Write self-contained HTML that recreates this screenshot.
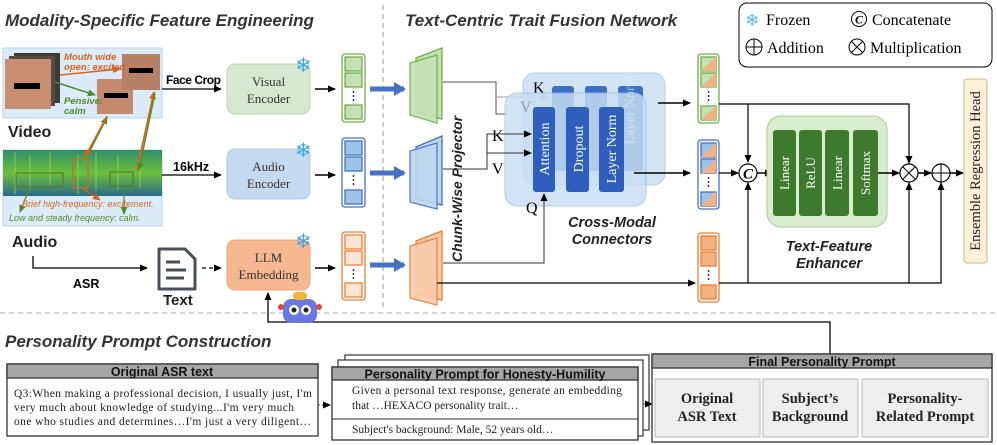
<!DOCTYPE html>
<html><head><meta charset="utf-8"><style>
html,body{margin:0;padding:0;background:#fff;}
svg{display:block;}
.t{font-family:"Liberation Sans",sans-serif;}
.s{font-family:"Liberation Serif",serif;}
</style></head><body>
<svg width="997" height="445" viewBox="0 0 997 445" xmlns="http://www.w3.org/2000/svg">
<defs>
<marker id="ar" markerWidth="8" markerHeight="8" refX="7" refY="4" orient="auto" markerUnits="userSpaceOnUse"><path d="M0,0.5 L8,4 L0,7.5 z" fill="#000"/></marker>
<marker id="ab" markerWidth="14" markerHeight="14" refX="10" refY="7" orient="auto" markerUnits="userSpaceOnUse"><path d="M0,0 L12,7 L0,14 z" fill="#4472c4"/></marker>
<marker id="ao" markerWidth="8" markerHeight="8" refX="7" refY="4" orient="auto" markerUnits="userSpaceOnUse"><path d="M0,0.5 L8,4 L0,7.5 z" fill="#d9641e"/></marker>
<marker id="ag" markerWidth="8" markerHeight="8" refX="7" refY="4" orient="auto" markerUnits="userSpaceOnUse"><path d="M0,0.5 L8,4 L0,7.5 z" fill="#4f8a2b"/></marker>
<linearGradient id="spec" x1="0" y1="0" x2="0" y2="1"><stop offset="0" stop-color="#2f8f6a"/><stop offset="0.5" stop-color="#6cbf3c"/><stop offset="1" stop-color="#2a6a8a"/></linearGradient>
</defs>

<line x1="383" y1="5" x2="383" y2="310" stroke="#999" stroke-dasharray="5,4"/>
<line x1="0" y1="313" x2="997" y2="313" stroke="#aaa" stroke-dasharray="5,4"/>

<text x="5" y="26" class="t" font-size="17" font-weight="bold" font-style="italic" fill="#333">Modality-Specific Feature Engineering</text>
<text x="405" y="26" class="t" font-size="17" font-weight="bold" font-style="italic" fill="#333">Text-Centric Trait Fusion Network</text>

<rect x="739" y="3" width="253" height="64" rx="8" fill="#fff" stroke="#000"/>
<text x="745" y="26" font-size="17" fill="#5ab4e5" class="s">❄</text>
<text x="766" y="25" class="s" font-size="16">Frozen</text>
<circle cx="859" cy="19" r="7.5" fill="none" stroke="#000"/><text x="859" y="23.5" text-anchor="middle" class="s" font-size="12" font-style="italic" font-weight="bold">C</text>
<text x="872" y="25" class="s" font-size="16">Concatenate</text>
<circle cx="754" cy="47" r="8" fill="none" stroke="#000"/><line x1="746" y1="47" x2="762" y2="47" stroke="#000"/><line x1="754" y1="39" x2="754" y2="55" stroke="#000"/>
<text x="767" y="53" class="s" font-size="16">Addition</text>
<circle cx="857" cy="47" r="8" fill="none" stroke="#000"/><line x1="851.5" y1="41.5" x2="862.5" y2="52.5" stroke="#000"/><line x1="862.5" y1="41.5" x2="851.5" y2="52.5" stroke="#000"/>
<text x="870" y="53" class="s" font-size="16">Multiplication</text>

<!-- video panel -->
<rect x="3" y="48" width="159" height="70" fill="#dcebf8" stroke="#b7d3ec"/>
<rect x="14" y="53" width="46" height="50" fill="#3a3a3a"/>
<rect x="9" y="56" width="46" height="50" fill="#5a4a40"/>
<rect x="5" y="59" width="46" height="50" fill="#c98f72"/>
<rect x="14" y="83" width="26" height="6" fill="#000"/>
<rect x="97" y="79" width="36" height="35" fill="#c48a6e"/><rect x="104" y="93" width="24" height="5" fill="#000"/>
<rect x="122" y="54" width="38" height="36" fill="#b98068"/><rect x="129" y="68" width="24" height="5" fill="#000"/>
<text x="64" y="60" class="t" font-size="9.5" font-style="italic" font-weight="bold" fill="#d9641e">Mouth wide</text>
<text x="64" y="70" class="t" font-size="9.5" font-style="italic" font-weight="bold" fill="#d9641e">open: excited</text>
<text x="64" y="104" class="t" font-size="9.5" font-style="italic" font-weight="bold" fill="#4f8a2b">Pensive:</text>
<text x="64" y="114" class="t" font-size="9.5" font-style="italic" font-weight="bold" fill="#4f8a2b">calm</text>
<line x1="60" y1="75" x2="120" y2="69" stroke="#d9641e" stroke-width="1.5" marker-end="url(#ao)"/>
<line x1="55" y1="82" x2="95" y2="95" stroke="#4f8a2b" stroke-width="1.5" marker-end="url(#ag)"/>
<text x="8" y="137" class="t" font-size="16" font-weight="bold" fill="#222">Video</text>

<!-- audio panel -->
<rect x="3" y="150" width="159" height="76" fill="#dcebf8" stroke="#b7d3ec"/>
<rect x="3" y="150" width="159" height="46" fill="url(#spec)"/>
<g stroke="#b6e04a" stroke-width="1" opacity="0.6">
<line x1="15" y1="152" x2="15" y2="194"/><line x1="30" y1="155" x2="30" y2="190"/><line x1="50" y1="152" x2="50" y2="185"/><line x1="78" y1="155" x2="78" y2="194"/><line x1="96" y1="152" x2="96" y2="190"/><line x1="118" y1="155" x2="118" y2="190"/><line x1="140" y1="152" x2="140" y2="188"/>
</g>
<rect x="16" y="173" width="47" height="14" fill="none" stroke="#5a7a2a" stroke-width="1.2"/>
<rect x="73" y="159" width="15" height="29" fill="none" stroke="#d9641e" stroke-width="1.2"/>
<rect x="110" y="172" width="23" height="14" fill="none" stroke="#5a7a2a" stroke-width="1.2"/>
<line x1="86" y1="158" x2="107" y2="117" stroke="#4f8a2b" stroke-width="1.8" marker-end="url(#ag)"/>
<line x1="107" y1="116" x2="85" y2="157" stroke="#d9641e" stroke-width="1.6" marker-end="url(#ao)"/>
<line x1="137" y1="170" x2="154" y2="92" stroke="#d9641e" stroke-width="1.8" marker-end="url(#ao)"/>
<line x1="155" y1="93" x2="139" y2="170" stroke="#4f8a2b" stroke-width="1.4" marker-end="url(#ag)"/>
<line x1="82" y1="188" x2="100" y2="200" stroke="#d9641e" stroke-width="1.2" marker-end="url(#ao)"/>
<line x1="30" y1="187" x2="20" y2="212" stroke="#4f8a2b" stroke-width="1.2" marker-end="url(#ag)"/>
<line x1="124" y1="187" x2="124" y2="214" stroke="#4f8a2b" stroke-width="1.2" marker-end="url(#ag)"/>
<text x="22" y="207" class="t" font-size="9" font-style="italic" fill="#d9641e">Brief high-frequency: excitement.</text>
<text x="9" y="221" class="t" font-size="9" font-style="italic" fill="#4f8a2b">Low and steady frequency: calm.</text>
<text x="12" y="247" class="t" font-size="16" font-weight="bold" fill="#222">Audio</text>

<text x="166" y="84" class="t" font-size="12" font-weight="bold" textLength="55">Face Crop</text>
<line x1="162" y1="89" x2="221" y2="89" stroke="#000" stroke-width="1.3" marker-end="url(#ar)"/>
<text x="173" y="171" class="t" font-size="12.5" font-weight="bold">16kHz</text>
<line x1="162" y1="175" x2="221" y2="175" stroke="#000" stroke-width="1.3" marker-end="url(#ar)"/>
<polyline points="33,256 33,268 147,268" fill="none" stroke="#000" stroke-width="1.3" marker-end="url(#ar)"/>
<text x="73" y="288" class="t" font-size="12.5" font-weight="bold">ASR</text>
<path d="M159,249 h26 l10,10 v30 h-36 z" fill="#fff" stroke="#4a4f57" stroke-width="3" stroke-linejoin="round"/>
<line x1="166" y1="262" x2="180" y2="262" stroke="#4a4f57" stroke-width="3"/>
<line x1="166" y1="270" x2="186" y2="270" stroke="#4a4f57" stroke-width="3"/>
<line x1="166" y1="278" x2="184" y2="278" stroke="#4a4f57" stroke-width="3"/>
<text x="163" y="305" class="t" font-size="15" font-weight="bold" fill="#222">Text</text>
<line x1="202" y1="268" x2="221" y2="268" stroke="#000" stroke-width="1.3" stroke-dasharray="4,3" marker-end="url(#ar)"/>

<rect x="227" y="64" width="83" height="50" rx="8" fill="#d5e8d0" stroke="#bcd9b0"/>
<text x="268.5" y="86" text-anchor="middle" class="s" font-size="13" fill="#333">Visual</text>
<text x="268.5" y="103" text-anchor="middle" class="s" font-size="13" fill="#333">Encoder</text>
<rect x="227" y="149" width="83" height="50" rx="8" fill="#c5d9ef" stroke="#b0cbe8"/>
<text x="268.5" y="171" text-anchor="middle" class="s" font-size="13" fill="#333">Audio</text>
<text x="268.5" y="188" text-anchor="middle" class="s" font-size="13" fill="#333">Encoder</text>
<rect x="227" y="240" width="83" height="50" rx="8" fill="#f5b890" stroke="#eda878"/>
<text x="268.5" y="262" text-anchor="middle" class="s" font-size="13" fill="#333">LLM</text>
<text x="268.5" y="279" text-anchor="middle" class="s" font-size="13" fill="#333">Embedding</text>
<text x="295" y="72" font-size="20" fill="#3aa6e8" class="s">❄</text>
<text x="295" y="157" font-size="20" fill="#3aa6e8" class="s">❄</text>
<text x="295" y="248" font-size="20" fill="#3aa6e8" class="s">❄</text>
<line x1="315" y1="89" x2="335" y2="89" stroke="#000" stroke-width="1.5" marker-end="url(#ar)"/>
<line x1="315" y1="175" x2="335" y2="175" stroke="#000" stroke-width="1.5" marker-end="url(#ar)"/>
<line x1="315" y1="268" x2="335" y2="268" stroke="#000" stroke-width="1.5" marker-end="url(#ar)"/>

<g stroke-width="1.3">
<rect x="342" y="54" width="23" height="68" rx="3" fill="#fff" stroke="#70ad47"/>
<rect x="345" y="57" width="17" height="14" fill="#c5e0b4" stroke="#70ad47"/><rect x="345" y="73" width="17" height="14" fill="#c5e0b4" stroke="#70ad47"/><rect x="345" y="105" width="17" height="14" fill="#c5e0b4" stroke="#70ad47"/>
<rect x="342" y="138" width="23" height="69" rx="3" fill="#fff" stroke="#4472c4"/>
<rect x="345" y="141" width="17" height="14" fill="#9dc3e6" stroke="#4472c4"/><rect x="345" y="157" width="17" height="14" fill="#9dc3e6" stroke="#4472c4"/><rect x="345" y="190" width="17" height="14" fill="#9dc3e6" stroke="#4472c4"/>
<rect x="342" y="232" width="23" height="68" rx="3" fill="#fff" stroke="#ed7d31"/>
<rect x="345" y="235" width="17" height="14" fill="#fbe5d6" stroke="#ed7d31"/><rect x="345" y="251" width="17" height="14" fill="#fbe5d6" stroke="#ed7d31"/><rect x="345" y="283" width="17" height="14" fill="#fbe5d6" stroke="#ed7d31"/>
</g>
<g fill="#000"><circle cx="353.5" cy="92" r="0.9"/><circle cx="353.5" cy="96" r="0.9"/><circle cx="353.5" cy="100" r="0.9"/>
<circle cx="353.5" cy="176" r="0.9"/><circle cx="353.5" cy="180" r="0.9"/><circle cx="353.5" cy="184" r="0.9"/>
<circle cx="353.5" cy="270" r="0.9"/><circle cx="353.5" cy="274" r="0.9"/><circle cx="353.5" cy="278" r="0.9"/></g>

<line x1="370" y1="89" x2="404" y2="89" stroke="#4472c4" stroke-width="5" marker-end="url(#ab)"/>
<line x1="370" y1="173" x2="404" y2="173" stroke="#4472c4" stroke-width="5" marker-end="url(#ab)"/>
<line x1="370" y1="265" x2="404" y2="265" stroke="#4472c4" stroke-width="5" marker-end="url(#ab)"/>

<polygon points="416,58 442,48 442,119 416,113" fill="#c5e0b4" stroke="#70ad47" stroke-width="1.3"/>
<polygon points="410,63 437,55 437,123 410,115" fill="#c5e0b4" stroke="#70ad47" stroke-width="1.3" opacity="0.9"/>
<polygon points="416,147 442,136 442,205 416,199" fill="#bdd7ee" stroke="#4472c4" stroke-width="1.3"/>
<polygon points="410,151 437,143 437,209 410,202" fill="#bdd7ee" stroke="#4472c4" stroke-width="1.3" opacity="0.9"/>
<polygon points="416,241 442,231 442,300 416,294" fill="#f8cbad" stroke="#ed7d31" stroke-width="1.3"/>
<polygon points="410,246 437,238 437,305 410,298" fill="#f8cbad" stroke="#ed7d31" stroke-width="1.3" opacity="0.9"/>
<text transform="translate(462,262) rotate(-90)" class="t" font-size="14" font-weight="bold" font-style="italic" fill="#222">Chunk-Wise Projector</text>

<polyline points="443,82 496,82 496,114 506,114" fill="none" stroke="#555" stroke-width="1"/>
<line x1="496" y1="97" x2="548" y2="97" stroke="#999" stroke-width="1" marker-end="url(#ar)"/>
<rect x="523" y="73" width="142" height="112" rx="12" fill="#c9def3" stroke="#9dc3e6" opacity="0.8"/>
<rect x="552" y="86" width="22" height="85" rx="3" fill="#3f6fc6"/>
<rect x="585" y="86" width="22" height="85" rx="3" fill="#3f6fc6"/>
<rect x="618" y="86" width="25" height="85" rx="3" fill="#3f6fc6"/>
<text x="533" y="93" class="s" font-size="16">K</text>
<rect x="505" y="93" width="141" height="113" rx="12" fill="#c9def3" stroke="#9dc3e6" opacity="0.82"/>
<text x="520" y="112" class="s" font-size="16" fill="#999">V</text>
<rect x="533" y="107" width="22" height="85" rx="3" fill="#2f5fbd"/>
<rect x="566" y="107" width="23" height="85" rx="3" fill="#2f5fbd"/>
<rect x="599" y="107" width="25" height="85" rx="3" fill="#2f5fbd"/>
<text transform="translate(549,149) rotate(-90)" text-anchor="middle" class="s" font-size="14" fill="#fff">Attention</text>
<text transform="translate(583,149) rotate(-90)" text-anchor="middle" class="s" font-size="14" fill="#fff">Dropout</text>
<text transform="translate(616,149) rotate(-90)" text-anchor="middle" class="s" font-size="14" fill="#fff">Layer Norm</text>
<text transform="translate(634,110) rotate(-90)" text-anchor="middle" class="s" font-size="14" fill="#e8eef8" opacity="0.6">Layer Norm</text>
<polyline points="443,169 487,169 487,134 531,134" fill="none" stroke="#333" stroke-width="1" marker-end="url(#ar)"/>
<line x1="487" y1="153" x2="531" y2="153" stroke="#333" stroke-width="1" marker-end="url(#ar)"/>
<text x="492" y="141" class="s" font-size="16">K</text>
<text x="492" y="174" class="s" font-size="16">V</text>
<polyline points="443,263 544,263 544,194" fill="none" stroke="#333" stroke-width="1" marker-end="url(#ar)"/>
<text x="526" y="213" class="s" font-size="16">Q</text>
<text x="612" y="227" text-anchor="middle" class="t" font-size="14.5" font-weight="bold" font-style="italic" fill="#222">Cross-Modal</text>
<text x="612" y="244" text-anchor="middle" class="t" font-size="14.5" font-weight="bold" font-style="italic" fill="#222">Connectors</text>
<line x1="658" y1="103" x2="690" y2="103" stroke="#000" stroke-width="1.5" marker-end="url(#ar)"/>
<line x1="634" y1="173" x2="690" y2="173" stroke="#000" stroke-width="1.5" marker-end="url(#ar)"/>
<line x1="437" y1="283" x2="695" y2="283" stroke="#000" stroke-width="1.3" marker-end="url(#ar)"/>

<g stroke-width="1.3">
<rect x="698" y="54" width="21" height="69" rx="3" fill="#fff" stroke="#70ad47"/>
<g><rect x="701" y="57" width="15" height="14" fill="#c5e0b4" stroke="#70ad47"/><polygon points="716,57 716,71 701,71" fill="#f4b183"/></g>
<g><rect x="701" y="73" width="15" height="14" fill="#c5e0b4" stroke="#70ad47"/><polygon points="716,73 716,87 701,87" fill="#f4b183"/></g>
<g><rect x="701" y="106" width="15" height="14" fill="#c5e0b4" stroke="#70ad47"/><polygon points="716,106 716,120 701,120" fill="#f4b183"/></g>
<rect x="698" y="140" width="21" height="69" rx="3" fill="#fff" stroke="#4472c4"/>
<g><rect x="701" y="143" width="15" height="14" fill="#9dc3e6" stroke="#4472c4"/><polygon points="716,143 716,157 701,157" fill="#f4b183"/></g>
<g><rect x="701" y="159" width="15" height="14" fill="#9dc3e6" stroke="#4472c4"/><polygon points="716,159 716,173 701,173" fill="#f4b183"/></g>
<g><rect x="701" y="192" width="15" height="14" fill="#9dc3e6" stroke="#4472c4"/><polygon points="716,192 716,206 701,206" fill="#f4b183"/></g>
<rect x="698" y="233" width="21" height="69" rx="3" fill="#fff" stroke="#ed7d31"/>
<rect x="701" y="236" width="15" height="14" fill="#f4b183" stroke="#ed7d31"/><rect x="701" y="252" width="15" height="14" fill="#f4b183" stroke="#ed7d31"/><rect x="701" y="285" width="15" height="14" fill="#f4b183" stroke="#ed7d31"/>
</g>
<g fill="#000"><circle cx="708.5" cy="92" r="0.9"/><circle cx="708.5" cy="96" r="0.9"/><circle cx="708.5" cy="100" r="0.9"/>
<circle cx="708.5" cy="178" r="0.9"/><circle cx="708.5" cy="182" r="0.9"/><circle cx="708.5" cy="186" r="0.9"/>
<circle cx="708.5" cy="271" r="0.9"/><circle cx="708.5" cy="275" r="0.9"/><circle cx="708.5" cy="279" r="0.9"/></g>

<polyline points="719,104 909,104 909,163" fill="none" stroke="#000" stroke-width="1.2" marker-end="url(#ar)"/>
<line x1="748" y1="104" x2="748" y2="162" stroke="#000" stroke-width="1.2" marker-end="url(#ar)"/>
<polyline points="719,283 941,283 941,183" fill="none" stroke="#000" stroke-width="1.2" marker-end="url(#ar)"/>
<line x1="748" y1="283" x2="748" y2="183" stroke="#000" stroke-width="1.2" marker-end="url(#ar)"/>
<line x1="909" y1="283" x2="909" y2="183" stroke="#000" stroke-width="1.2" marker-end="url(#ar)"/>
<line x1="719" y1="173" x2="738" y2="173" stroke="#000" stroke-width="1.2" marker-end="url(#ar)"/>
<circle cx="748" cy="173" r="9" fill="#fff" stroke="#000" stroke-width="1.2"/>
<text x="748" y="178.5" text-anchor="middle" class="s" font-size="15" font-weight="bold" font-style="italic">C</text>
<line x1="757" y1="173" x2="772" y2="173" stroke="#000" stroke-width="1.5" marker-end="url(#ar)"/>
<rect x="767" y="116" width="120" height="111" rx="14" fill="#d8ecd0" stroke="#a9d18e"/>
<rect x="773" y="130" width="23" height="86" rx="3" fill="#3d7a2e"/>
<rect x="799" y="130" width="23" height="86" rx="3" fill="#3d7a2e"/>
<rect x="825" y="130" width="24" height="86" rx="3" fill="#3d7a2e"/>
<rect x="853" y="130" width="25" height="86" rx="3" fill="#3d7a2e"/>
<text transform="translate(789,173) rotate(-90)" text-anchor="middle" class="s" font-size="13" fill="#fff">Linear</text>
<text transform="translate(815,173) rotate(-90)" text-anchor="middle" class="s" font-size="13" fill="#fff">ReLU</text>
<text transform="translate(842,173) rotate(-90)" text-anchor="middle" class="s" font-size="13" fill="#fff">Linear</text>
<text transform="translate(870,173) rotate(-90)" text-anchor="middle" class="s" font-size="13" fill="#fff">Softmax</text>
<text x="829" y="251" text-anchor="middle" class="t" font-size="14.5" font-weight="bold" font-style="italic" fill="#222">Text-Feature</text>
<text x="829" y="268" text-anchor="middle" class="t" font-size="14.5" font-weight="bold" font-style="italic" fill="#222">Enhancer</text>
<line x1="878" y1="173" x2="899" y2="173" stroke="#000" stroke-width="1.5" marker-end="url(#ar)"/>
<circle cx="909" cy="173" r="9" fill="#fff" stroke="#000" stroke-width="1.2"/>
<line x1="902.5" y1="166.5" x2="915.5" y2="179.5" stroke="#000"/><line x1="915.5" y1="166.5" x2="902.5" y2="179.5" stroke="#000"/>
<line x1="918" y1="173" x2="931" y2="173" stroke="#000" stroke-width="1.5" marker-end="url(#ar)"/>
<circle cx="941" cy="173" r="9" fill="#fff" stroke="#000" stroke-width="1.2"/>
<line x1="932" y1="173" x2="950" y2="173" stroke="#000"/><line x1="941" y1="164" x2="941" y2="182" stroke="#000"/>
<line x1="950" y1="173" x2="963" y2="173" stroke="#000" stroke-width="1.5" marker-end="url(#ar)"/>
<rect x="964" y="79" width="23" height="184" rx="3" fill="#fdf0d8" stroke="#c8b68a"/>
<text transform="translate(980,171) rotate(-90)" text-anchor="middle" class="s" font-size="14.5" fill="#222">Ensemble Regression Head</text>

<polyline points="830,354 830,322 268,322 268,293" fill="none" stroke="#000" stroke-width="1.3" marker-end="url(#ar)"/>
<rect x="283" y="299" width="34" height="24" rx="8" fill="#6a78e0"/>
<rect x="293" y="292" width="14" height="8" rx="4" fill="#f4b630"/>
<circle cx="294" cy="310" r="5" fill="#fff"/><circle cx="306" cy="310" r="5" fill="#fff"/>
<circle cx="294" cy="310" r="2.5" fill="#223"/><circle cx="306" cy="310" r="2.5" fill="#223"/>
<circle cx="281" cy="307" r="3" fill="#e04848"/><circle cx="319" cy="307" r="3" fill="#e04848"/>

<text x="5" y="347" class="t" font-size="17" font-weight="bold" font-style="italic" fill="#333">Personality Prompt Construction</text>
<rect x="7" y="364" width="311" height="72" fill="#fff" stroke="#333" stroke-width="1.3"/>
<rect x="7" y="364" width="311" height="14" fill="#a6a6a6" stroke="#333" stroke-width="1.3"/>
<text x="162" y="376" text-anchor="middle" class="t" font-size="12.5" font-weight="bold" fill="#111">Original ASR text</text>
<text x="14" y="397" class="s" font-size="11.5" fill="#222" textLength="298">Q3:When making a professional decision, I usually just, I'm</text>
<text x="14" y="411" class="s" font-size="11.5" fill="#222" textLength="280">very much about knowledge of studying...I'm very much</text>
<text x="14" y="425" class="s" font-size="11.5" fill="#222" textLength="297">one who studies and determines…I'm just a very diligent…</text>
<line x1="318" y1="405" x2="330" y2="405" stroke="#555" stroke-dasharray="2,2" marker-end="url(#ar)"/>

<rect x="345" y="355" width="304" height="75" fill="#fff" stroke="#333" stroke-width="1.2"/>
<rect x="338" y="360" width="305" height="76" fill="#fff" stroke="#333" stroke-width="1.2"/>
<rect x="332" y="367" width="306" height="73" fill="#fff" stroke="#333" stroke-width="1.3"/>
<rect x="332" y="367" width="306" height="13" fill="#a6a6a6" stroke="#333" stroke-width="1.3"/>
<text x="485" y="378.5" text-anchor="middle" class="t" font-size="12.5" font-weight="bold" fill="#111">Personality Prompt for Honesty-Humility</text>
<text x="352" y="394" class="s" font-size="11.5" fill="#222" textLength="270">Given a personal text response, generate an embedding</text>
<text x="352" y="409" class="s" font-size="11.5" fill="#222">that …HEXACO personality trait…</text>
<line x1="332" y1="419" x2="638" y2="419" stroke="#333"/>
<text x="352" y="433" class="s" font-size="11.5" fill="#222">Subject's background: Male, 52 years old…</text>
<line x1="643" y1="404" x2="652" y2="404" stroke="#555" stroke-dasharray="2,2" marker-end="url(#ar)"/>

<rect x="652" y="354" width="340" height="88" fill="#fff" stroke="#333" stroke-width="1.3"/>
<rect x="652" y="354" width="340" height="14" fill="#a6a6a6" stroke="#333" stroke-width="1.3"/>
<text x="822" y="366" text-anchor="middle" class="t" font-size="12.5" font-weight="bold" fill="#111">Final Personality Prompt</text>
<rect x="655" y="379" width="105" height="58" fill="#eee" stroke="#bbb"/>
<rect x="763" y="379" width="95" height="58" fill="#eee" stroke="#bbb"/>
<rect x="862" y="379" width="126" height="58" fill="#eee" stroke="#bbb"/>
<g class="s" font-size="14.5" font-weight="bold" fill="#222" text-anchor="middle">
<text x="707" y="403">Original</text><text x="707" y="421">ASR Text</text>
<text x="810" y="403">Subject’s</text><text x="810" y="421">Background</text>
<text x="925" y="403">Personality-</text><text x="925" y="421">Related Prompt</text>
</g>
</svg>
</body></html>
